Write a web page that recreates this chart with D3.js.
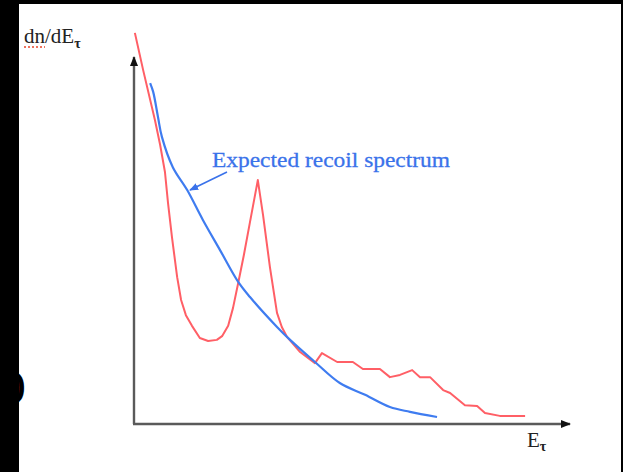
<!DOCTYPE html>
<html>
<head>
<meta charset="utf-8">
<script src="https://cdn.jsdelivr.net/npm/d3@7"></script>
<style>
  html, body { margin: 0; padding: 0; background: #fff; }
  svg { display: block; }
</style>
</head>
<body>
<script>
// Expected recoil spectrum (blue) vs. measured spectrum with a peak (red)
const expectedE = [3.7, 4.4, 5.5, 6.4, 8.9, 12.2, 15.8, 19.7, 23.9, 26.6, 32.8, 35.8, 41.5, 47.2, 53.0, 58.7, 63.3, 69.5];
const expectedN = [92.4, 90.0, 83.2, 77.8, 69.6, 63.4, 55.3, 47.2, 38.5, 34.4, 26.3, 22.8, 16.8, 11.1, 7.9, 4.6, 3.3, 1.9];

const measuredE = [0.2, 2.1, 4.8, 6.0, 7.1, 7.8, 8.7, 9.9, 10.8, 11.9, 13.3, 15.1, 17.0, 19.0, 20.2, 21.6, 22.7, 23.9, 25.2, 26.6, 28.4, 29.6, 31.2, 32.8, 33.9, 35.1, 38.1, 41.5, 43.1, 46.6, 50.2, 52.5, 56.4, 58.7, 61.0, 63.8, 65.6, 67.9, 70.9, 72.5, 75.9, 78.7, 80.5, 83.9, 89.7];
const measuredN = [106.0, 95.9, 82.4, 75.6, 68.3, 59.9, 50.7, 39.8, 33.6, 29.5, 26.6, 23.3, 22.5, 22.8, 23.8, 26.6, 31.4, 38.2, 45.8, 54.7, 66.1, 56.6, 42.3, 30.1, 26.3, 23.6, 19.5, 16.5, 19.2, 16.8, 16.8, 14.9, 14.9, 12.7, 13.3, 14.6, 12.7, 12.7, 9.2, 8.4, 5.1, 4.9, 3.0, 2.2, 2.2];

const yLabel = "dn/dE";
const xLabel = "E";
const subLabel = "τ";
const annotation = "Expected recoil spectrum";

const W = 623, H = 472;
const svg = d3.select("body").append("svg").attr("width", W).attr("height", H);
svg.append("rect").attr("width", W).attr("height", H).attr("fill", "#fff");

const x = d3.scaleLinear().domain([0, 100]).range([134, 570]);
const y = d3.scaleLinear().domain([0, 100]).range([424, 55]);

const defs = svg.append("defs");
defs.append("marker").attr("id", "axisHead")
  .attr("viewBox", "0 0 10 10").attr("refX", 9).attr("refY", 5)
  .attr("markerWidth", 10).attr("markerHeight", 10).attr("markerUnits", "userSpaceOnUse")
  .attr("orient", "auto")
  .append("path").attr("d", "M0,1 L10,5 L0,9 Z").attr("fill", "#111");
defs.append("marker").attr("id", "noteHead")
  .attr("viewBox", "0 0 10 10").attr("refX", 9).attr("refY", 5)
  .attr("markerWidth", 9).attr("markerHeight", 9).attr("markerUnits", "userSpaceOnUse")
  .attr("orient", "auto")
  .append("path").attr("d", "M0,1 L10,5 L0,9 Z").attr("fill", "#3a72ea");

// axes
const axes = svg.append("g").attr("stroke", "#5a5a5a").attr("stroke-width", 2.4).attr("fill", "none");
axes.append("line")
  .attr("x1", x(0)).attr("y1", y(0)).attr("x2", x(0)).attr("y2", y(100) + 2)
  .attr("marker-end", "url(#axisHead)");
axes.append("line")
  .attr("x1", x(0) - 1).attr("y1", y(0)).attr("x2", x(100)).attr("y2", y(0))
  .attr("marker-end", "url(#axisHead)");

// curves
const measured = measuredE.map((e, i) => [e, measuredN[i]]);
const expected = expectedE.map((e, i) => [e, expectedN[i]]);

svg.append("path").datum(measured)
  .attr("fill", "none").attr("stroke", "#ff5f66").attr("stroke-width", 2)
  .attr("stroke-linejoin", "round")
  .attr("d", d3.line().x(d => x(d[0])).y(d => y(d[1])));

svg.append("path").datum(expected)
  .attr("fill", "none").attr("stroke", "#3f7cf0").attr("stroke-width", 2.2)
  .attr("d", d3.line().curve(d3.curveCatmullRom.alpha(0.5)).x(d => x(d[0])).y(d => y(d[1])));

// annotation
svg.append("text").attr("x", 212).attr("y", 167)
  .attr("font-family", "'Liberation Serif', 'Times New Roman', serif")
  .attr("font-size", 22).attr("fill", "#3a72ea")
  .attr("stroke", "#3a72ea").attr("stroke-width", 0.3)
  .attr("textLength", 238).attr("lengthAdjust", "spacingAndGlyphs")
  .text(annotation);
svg.append("line").attr("x1", 227).attr("y1", 172).attr("x2", 190).attr("y2", 190)
  .attr("stroke", "#3a72ea").attr("stroke-width", 1.6)
  .attr("marker-end", "url(#noteHead)");

// axis titles
const serif = "'Liberation Serif', 'Times New Roman', serif";
const yt = svg.append("text").attr("x", 24).attr("y", 43)
  .attr("font-family", serif).attr("font-size", 21).attr("fill", "#222");
yt.append("tspan").text(yLabel);
yt.append("tspan").attr("dy", 5).attr("font-size", 14).attr("font-weight", "bold").text(subLabel);
// spell-check squiggle under "dn"
svg.append("line").attr("x1", 24).attr("y1", 47).attr("x2", 45).attr("y2", 47)
  .attr("stroke", "#e8442a").attr("stroke-width", 1.6).attr("stroke-dasharray", "2,2");

const xt = svg.append("text").attr("x", 527).attr("y", 447)
  .attr("font-family", serif).attr("font-size", 21).attr("fill", "#222");
xt.append("tspan").text(xLabel);
xt.append("tspan").attr("dy", 4).attr("font-size", 14).attr("font-weight", "bold").text(subLabel);

// clipped glyph at the left edge and the dark frame
svg.append("text").attr("x", 13).attr("y", 397)
  .attr("font-family", serif).attr("font-size", 38).attr("font-weight", "bold").attr("fill", "#000")
  .text(")");
svg.append("rect").attr("x", 0).attr("y", 0).attr("width", 19).attr("height", H).attr("fill", "#000");
svg.append("rect").attr("x", 0).attr("y", 0).attr("width", W).attr("height", 4).attr("fill", "#000");
svg.append("rect").attr("x", 621).attr("y", 0).attr("width", 2).attr("height", H).attr("fill", "#000");
</script>
</body>
</html>
